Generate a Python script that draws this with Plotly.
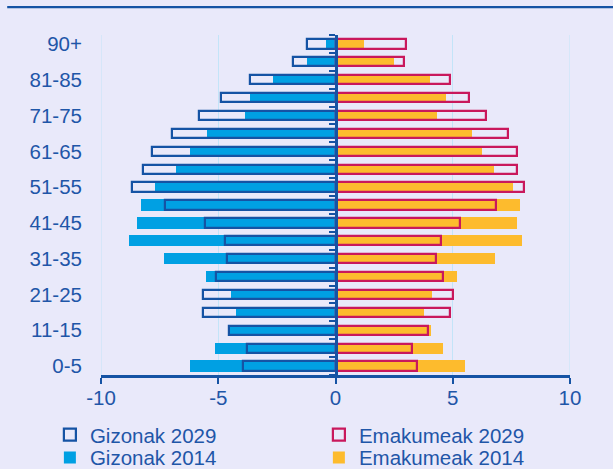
import plotly.graph_objects as go

# Age groups, bottom to top
ages = ['0-5', '6-10', '11-15', '16-20', '21-25', '26-30', '31-35', '36-40',
        '41-45', '46-50', '51-55', '56-60', '61-65', '66-70', '71-75',
        '76-80', '81-85', '86-90', '90+']
age_ticks = ['0-5', '11-15', '21-25', '31-35', '41-45', '51-55', '61-65',
             '71-75', '81-85', '90+']

# Share of population (%), men shown as negative values
gizonak_2014 = [-6.21, -5.14, -4.50, -4.26, -4.44, -5.53, -7.32, -8.80, -8.46,
                -8.28, -7.69, -6.82, -6.20, -5.49, -3.85, -3.66, -2.68, -1.21, -0.41]
gizonak_2029 = [-3.96, -3.76, -4.53, -5.63, -5.63, -5.09, -4.62, -4.72, -5.56,
                -7.27, -8.66, -8.22, -7.81, -6.96, -5.84, -4.88, -3.65, -1.81, -1.23]
emakumeak_2014 = [5.52, 4.59, 4.09, 3.78, 4.12, 5.19, 6.79, 7.97, 7.76,
                  7.86, 7.59, 6.76, 6.24, 5.83, 4.32, 4.70, 4.04, 2.50, 1.22]
emakumeak_2029 = [3.46, 3.25, 3.94, 4.90, 5.00, 4.60, 4.29, 4.51, 5.32,
                  6.86, 8.02, 7.73, 7.72, 7.34, 6.40, 5.68, 4.87, 2.94, 3.00]

x_ticks = [-10, -5, 0, 5, 10]
x_tick_text = ['-10', '-5', '0', '5', '10']

BG = '#E9E9FA'
TEXT = '#1F56A8'
AXIS = '#1553A4'
GRID = '#C3E4F8'
FONT = 'Liberation Sans, Arial, sans-serif'

fig = go.Figure()

# 2014: filled bars behind
fig.add_trace(go.Bar(y=ages, x=gizonak_2014, orientation='h', name='Gizonak 2014',
                     width=0.63, marker=dict(color='#00A0E3', line=dict(width=0)),
                     legend='legend2', legendrank=3))
fig.add_trace(go.Bar(y=ages, x=emakumeak_2014, orientation='h', name='Emakumeak 2014',
                     width=0.63, marker=dict(color='#FDBB2D', line=dict(width=0)),
                     legend='legend2', legendrank=4))
# 2029: outlined bars on top
fig.add_trace(go.Bar(y=ages, x=gizonak_2029, orientation='h', name='Gizonak 2029',
                     width=0.52, marker=dict(color='rgba(0,0,0,0)',
                                             line=dict(color=AXIS, width=2.2)),
                     legend='legend', legendrank=1))
fig.add_trace(go.Bar(y=ages, x=emakumeak_2029, orientation='h', name='Emakumeak 2029',
                     width=0.52, marker=dict(color='rgba(0,0,0,0)',
                                             line=dict(color='#C9185C', width=2.2)),
                     legend='legend', legendrank=2))

legend_common = dict(orientation='h', xanchor='left', yanchor='middle',
                     font=dict(family=FONT, size=20.5, color=TEXT),
                     bgcolor='rgba(0,0,0,0)', entrywidthmode='pixels',
                     entrywidth=224, itemclick=False, itemdoubleclick=False)

# gridlines at the outer ticks, which the axis does not draw itself
edge_grid = [dict(type='line', xref='x', yref='paper', x0=v, x1=v, y0=0, y1=1,
                  layer='below', line=dict(color=GRID, width=1))
             for v in (x_ticks[0], x_ticks[-1])]

fig.update_layout(
    width=613, height=469,
    margin=dict(l=101, r=43, t=35, b=94, autoexpand=False),
    paper_bgcolor=BG, plot_bgcolor=BG,
    barmode='overlay', bargap=0,
    font=dict(family=FONT, size=20.5, color=TEXT),
    xaxis=dict(range=[-10, 10], tickvals=x_ticks, ticktext=x_tick_text,
               showgrid=True, gridcolor=GRID,
               gridwidth=1, zeroline=False, showline=True, linecolor=AXIS,
               linewidth=2.5, ticks='outside', ticklen=6, tickwidth=2,
               tickcolor=AXIS, ticklabelstandoff=-3,
               tickfont=dict(size=20.5, color=TEXT)),
    yaxis=dict(type='category', categoryorder='array', categoryarray=ages,
               range=[-0.5, len(ages) - 0.5], tickvals=age_ticks, ticks='',
               showline=False, showgrid=False, zeroline=False,
               ticklabelstandoff=18, tickfont=dict(size=20.5, color=TEXT)),
    # vertical axis through zero with tick marks between age groups
    yaxis2=dict(overlaying='y', anchor='free', position=0.5, side='left',
                range=[-0.5, len(ages) - 0.5],
                tickvals=[i - 0.5 for i in range(len(ages) + 1)],
                showticklabels=False, ticks='outside', ticklen=6, tickwidth=2,
                tickcolor=AXIS, showline=True, linecolor=AXIS, linewidth=2.5,
                showgrid=False, zeroline=False),
    legend=dict(x=-0.109, y=-0.176, **legend_common),
    legend2=dict(x=-0.109, y=-0.243, **legend_common),
    showlegend=True,
    shapes=[dict(type='line', xref='paper', yref='paper', x0=-0.2, x1=1.1,
                 y0=1.082, y1=1.082, line=dict(color=AXIS, width=2.2))] + edge_grid,
)

# invisible trace to activate the zero-line axis
fig.add_trace(go.Scatter(x=[0], y=[0], yaxis='y2', mode='markers',
                         marker=dict(opacity=0), showlegend=False, hoverinfo='skip'))

fig.write_html('out.html')
